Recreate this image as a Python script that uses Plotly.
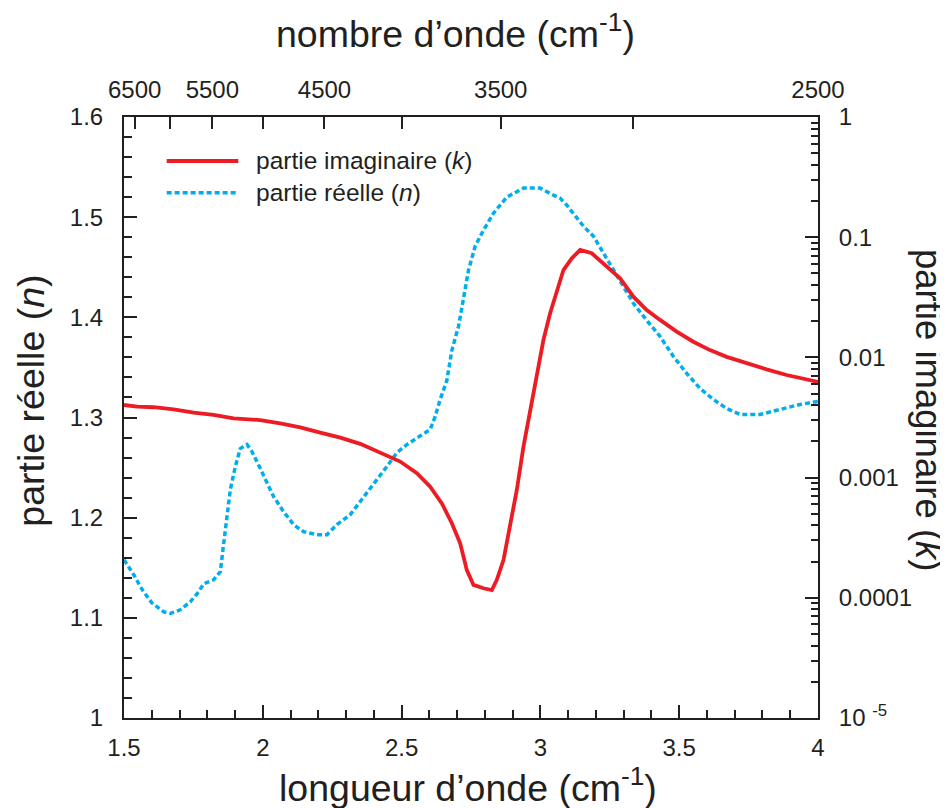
import plotly.graph_objects as go

# --- data ---
# real part n (left axis), wavelength values
wl_n = [1.50, 1.535, 1.566, 1.60, 1.643, 1.667, 1.703, 1.739, 1.769, 1.787, 1.823, 1.847,
        1.859, 1.871, 1.883, 1.901, 1.919, 1.943, 1.961, 1.991, 2.015, 2.039, 2.075, 2.111,
        2.147, 2.195, 2.231, 2.267, 2.315, 2.363, 2.411, 2.447, 2.483, 2.519, 2.561, 2.603,
        2.621, 2.639, 2.663, 2.681, 2.705, 2.723, 2.741, 2.765, 2.795, 2.831, 2.879, 2.939,
        2.999, 3.047, 3.071, 3.095, 3.119, 3.155, 3.191, 3.227, 3.263, 3.299, 3.335, 3.383,
        3.431, 3.479, 3.527, 3.575, 3.623, 3.671, 3.719, 3.791, 3.863, 3.935, 4.0]
n_vals = [1.158, 1.143, 1.128, 1.115, 1.106, 1.1045, 1.108, 1.116, 1.126, 1.134, 1.138, 1.146,
          1.174, 1.201, 1.228, 1.251, 1.269, 1.273, 1.266, 1.249, 1.234, 1.221, 1.206, 1.193,
          1.186, 1.183, 1.183, 1.193, 1.203, 1.221, 1.238, 1.251, 1.265, 1.273, 1.281, 1.288,
          1.301, 1.318, 1.337, 1.367, 1.391, 1.417, 1.447, 1.471, 1.487, 1.504, 1.520, 1.529,
          1.529, 1.522, 1.519, 1.512, 1.504, 1.491, 1.481, 1.464, 1.447, 1.431, 1.414, 1.397,
          1.381, 1.361, 1.344, 1.329, 1.318, 1.309, 1.303, 1.303, 1.308, 1.313, 1.316]

# imaginary part k (right log axis)
wl_k = [1.50, 1.548, 1.607, 1.679, 1.751, 1.823, 1.895, 1.991, 2.063, 2.135, 2.207, 2.279,
        2.351, 2.423, 2.495, 2.555, 2.603, 2.645, 2.681, 2.711, 2.735, 2.759, 2.795, 2.825,
        2.843, 2.867, 2.891, 2.915, 2.939, 2.963, 2.987, 3.011, 3.035, 3.059, 3.083, 3.113,
        3.143, 3.185, 3.239, 3.287, 3.335, 3.383, 3.431, 3.491, 3.551, 3.611, 3.671, 3.743,
        3.815, 3.887, 3.935, 4.0]
k_vals = [0.00402, 0.00389, 0.00385, 0.00370, 0.00347, 0.00332, 0.00311, 0.00301, 0.00283,
          0.00262, 0.00237, 0.00215, 0.00191, 0.00162, 0.00136, 0.00109, 0.00084, 0.00061,
          0.000417, 0.000284, 0.000170, 0.000128, 0.000120, 0.000116, 0.000141, 0.000206,
          0.000391, 0.000789, 0.00181, 0.00365, 0.00738, 0.0140, 0.0233, 0.0364, 0.0533,
          0.0667, 0.0783, 0.0735, 0.0569, 0.0455, 0.0320, 0.0248, 0.0205, 0.0164, 0.0135,
          0.0115, 0.0101, 0.00893, 0.00796, 0.00714, 0.00670, 0.00624]

# top axis: wavenumbers
wavenumbers = [6500, 6000, 5500, 5000, 4500, 4000, 3500, 3000, 2500]
wn_labels = ["6500", "", "5500", "", "4500", "", "3500", "", "2500"]

left_ticks = [1.0, 1.1, 1.2, 1.3, 1.4, 1.5, 1.6]
right_ticks = [1e-5, 1e-4, 1e-3, 1e-2, 1e-1, 1]
right_labels = ["10 <sup>-5</sup>", "0.0001", "0.001", "0.01", "0.1", "1"]

legend_names = ["partie imaginaire (<i>k</i>)", "partie réelle (<i>n</i>)"]

RED = "#ed1c24"
BLUE = "#00aeef"
INK = "#231f20"
FONT = "Liberation Sans, Arial, sans-serif"

fig = go.Figure()
fig.add_trace(go.Scatter(x=wl_k, y=k_vals, mode="lines", xaxis="x", yaxis="y2",
                         line=dict(color=RED, width=3.8), showlegend=False))
fig.add_trace(go.Scatter(x=wl_n, y=n_vals, mode="lines", xaxis="x", yaxis="y",
                         line=dict(color=BLUE, width=3.5, dash="5px,3px"), showlegend=False))
# invisible trace to carry the top axis
fig.add_trace(go.Scatter(x=[1.5, 4], y=[1, 1], mode="lines", xaxis="x2", yaxis="y",
                         line=dict(width=0), hoverinfo="skip", showlegend=False, opacity=0))

axis_common = dict(showline=True, linecolor=INK, linewidth=2, ticks="inside",
                   tickcolor=INK, tickwidth=1.6, showgrid=False, zeroline=False,
                   tickfont=dict(size=24, color=INK, family=FONT))

minor_x = [round(1.5 + 0.1 * i, 2) for i in range(26)]
minor_y = [round(1.0 + 0.02 * i, 2) for i in range(31)]
minor_log = [m * 10 ** e for e in range(-5, 0) for m in range(2, 10)]

# page body has an 8px margin: figure 940x800 placed at (8,8)
fig.update_layout(
    width=940, height=800,
    margin=dict(l=116, r=130, t=109, b=90),
    paper_bgcolor="white", plot_bgcolor="white",
    font=dict(family=FONT, color=INK),
    xaxis=dict(range=[1.5, 4], tickvals=[1.5, 2, 2.5, 3, 3.5, 4], ticklen=13,
               ticklabelstandoff=7,
               minor=dict(tickvals=minor_x, ticks="inside", ticklen=8, tickcolor=INK, tickwidth=1.6),
               **axis_common),
    xaxis2=dict(range=[1.5, 4], overlaying="x", side="top", anchor="y",
                tickvals=[10000 / w for w in wavenumbers], ticktext=wn_labels, ticklen=12,
                ticklabelstandoff=7, **axis_common),
    yaxis=dict(range=[1.0, 1.6], tickvals=left_ticks, ticklen=13, ticklabelstandoff=14,
               minor=dict(tickvals=minor_y, ticks="inside", ticklen=8, tickcolor=INK, tickwidth=1.6),
               **axis_common),
    yaxis2=dict(type="log", range=[-5, 0], overlaying="y", side="right", anchor="x",
                tickvals=right_ticks, ticktext=right_labels, ticklen=13, ticklabelstandoff=14,
                minor=dict(tickvals=minor_log, ticks="inside", ticklen=7, tickcolor=INK, tickwidth=1.6),
                **axis_common),
)

title_font = dict(size=37.5, color=INK, family=FONT)
fig.add_annotation(text="longueur d’onde (cm<sup>-1</sup>)", xref="paper", yref="paper",
                   x=0.496, y=-0.112, showarrow=False, font=title_font,
                   xanchor="center", yanchor="middle")
fig.add_annotation(text="nombre d’onde (cm<sup>-1</sup>)", xref="paper", yref="paper",
                   x=0.477, y=1.143, showarrow=False, font=title_font,
                   xanchor="center", yanchor="middle")
fig.add_annotation(text="partie réelle (<i>n</i>)", xref="paper", yref="paper",
                   x=-0.134, y=0.528, showarrow=False, font=title_font, textangle=-90,
                   xanchor="center", yanchor="middle")
fig.add_annotation(text="partie imaginaire (<i>k</i>)", xref="paper", yref="paper",
                   x=1.159, y=0.512, showarrow=False, font=dict(size=36.5, color=INK, family=FONT),
                   textangle=90, xanchor="center", yanchor="middle")

# hand-drawn legend (long line samples, as in the reference)
leg_y = [0.9268, 0.874]
leg_styles = [dict(color=RED, width=3.8), dict(color=BLUE, width=3.5, dash="5px,3px")]
for name, yy, st in zip(legend_names, leg_y, leg_styles):
    fig.add_shape(type="line", xref="paper", yref="paper", x0=0.0615, x1=0.1647,
                  y0=yy, y1=yy, line=st)
    fig.add_annotation(text=name, xref="paper", yref="paper", x=0.188, y=yy,
                       showarrow=False, xanchor="left", yanchor="middle",
                       font=dict(size=24.5, color=INK, family=FONT))

fig.write_html("out.html")
